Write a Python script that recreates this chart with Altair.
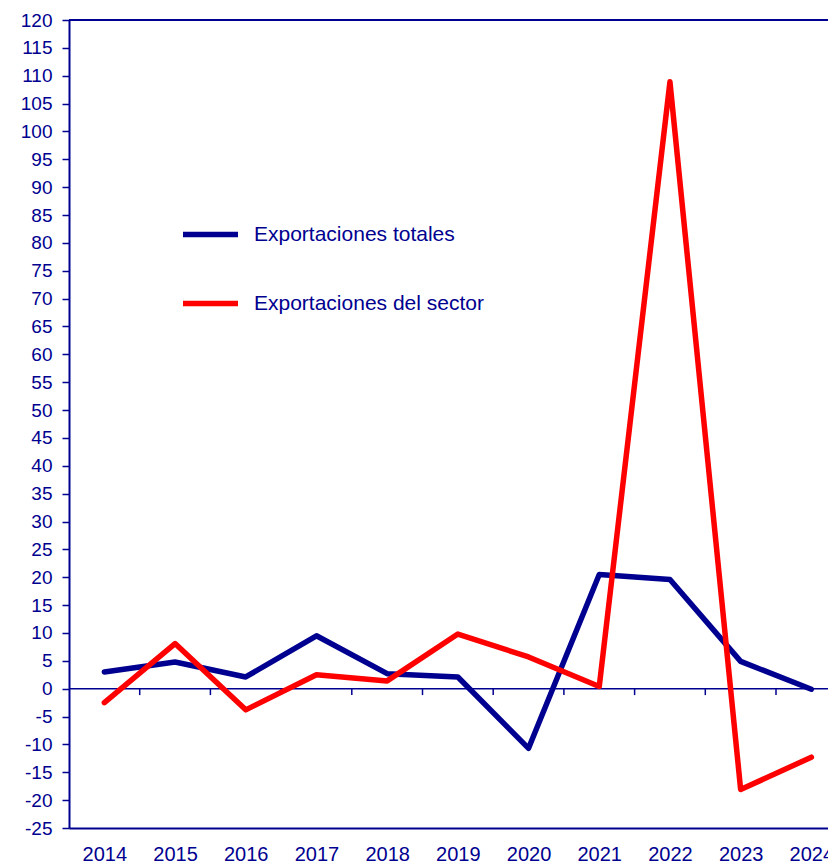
import altair as alt
import pandas as pd

years = [2014, 2015, 2016, 2017, 2018, 2019, 2020, 2021, 2022, 2023, 2024]
totales = [3.0, 4.8, 2.1, 9.5, 2.7, 2.1, -10.7, 20.5, 19.6, 4.9, -0.1]
sector = [-2.5, 8.1, -3.8, 2.5, 1.4, 9.8, 5.7, 0.4, 108.9, -18.1, -12.3]
series_names = ["Exportaciones totales", "Exportaciones del sector"]
y_ticks = list(range(-25, 121, 5))
boundaries = [2014.5, 2015.5, 2016.5, 2017.5, 2018.5, 2019.5, 2020.5, 2021.5, 2022.5, 2023.5]

NAVY = "#000090"
RED = "#ff0000"
FONT = "Liberation Sans"

rows = []
for y, v in zip(years, totales):
    rows.append({"year": y, "value": v, "serie": series_names[0], "ord": 0})
for y, v in zip(years, sector):
    rows.append({"year": y, "value": v, "serie": series_names[1], "ord": 1})
df = pd.DataFrame(rows)

ticks_df = pd.DataFrame({"x": boundaries, "y0": [0.0] * len(boundaries), "y1": [-1.15] * len(boundaries)})
one = pd.DataFrame({"a": [0]})

W = 759
H = 808
xdom = [2013.5, 2013.5 + W / 70.7]

xscale = alt.Scale(domain=xdom, nice=False, zero=False)
yscale = alt.Scale(domain=[-25, 120], nice=False, zero=False)

xaxis = alt.Axis(values=years, tickCount=len(years), title=None, ticks=False, grid=False,
                 labelExpr="'' + datum.value",
                 labelFontSize=20, labelFont=FONT, labelColor=NAVY, labelPadding=32,
                 labelBaseline="alphabetic", domainColor=NAVY, domainWidth=2,
                 labelFlush=False, labelOverlap=False)
yaxis = alt.Axis(values=y_ticks, tickCount=len(y_ticks), title=None, grid=False,
                 labelExpr="'' + datum.value",
                 tickSize=7, tickColor=NAVY,
                 tickWidth=1.5, labelFontSize=19, labelFont=FONT, labelColor=NAVY,
                 labelPadding=10, domainColor=NAVY, domainWidth=2, labelOverlap=False)

top_border = alt.Chart(one).mark_rule(color=NAVY, strokeWidth=2).encode(
    y=alt.datum(120, scale=yscale)
)
zero_line = alt.Chart(one).mark_rule(color=NAVY, strokeWidth=1.5).encode(
    y=alt.datum(0, scale=yscale)
)
zero_ticks = alt.Chart(ticks_df).mark_rule(color=NAVY, strokeWidth=1.5).encode(
    x=alt.X("x:Q", scale=xscale, axis=xaxis),
    y=alt.Y("y0:Q", scale=yscale, axis=yaxis),
    y2="y1:Q",
)

lines = alt.Chart(df).mark_line(strokeWidth=5.5, strokeCap="round", strokeJoin="round").encode(
    x=alt.X("year:Q", scale=xscale, axis=xaxis),
    y=alt.Y("value:Q", scale=yscale, axis=yaxis),
    color=alt.Color("serie:N",
                    scale=alt.Scale(domain=series_names, range=[NAVY, RED]),
                    legend=alt.Legend(orient="none", legendX=111, legendY=184,
                                      symbolType="stroke", symbolSize=3025,
                                      symbolStrokeWidth=5.5, labelFontSize=21,
                                      labelFont=FONT, labelColor=NAVY, labelOffset=13,
                                      rowPadding=27, title=None, labelLimit=0)),
    order=alt.Order("ord:Q"),
)

chart = alt.layer(zero_ticks, zero_line, top_border, lines).properties(
    width=W, height=H,
    autosize=alt.AutoSizeParams(type="none"),
    padding={"left": 61, "top": 12, "right": 0, "bottom": 38},
).configure_view(stroke=None).configure(background="white")

chart.save("out.html", embed_options={"renderer": "svg", "actions": False})
